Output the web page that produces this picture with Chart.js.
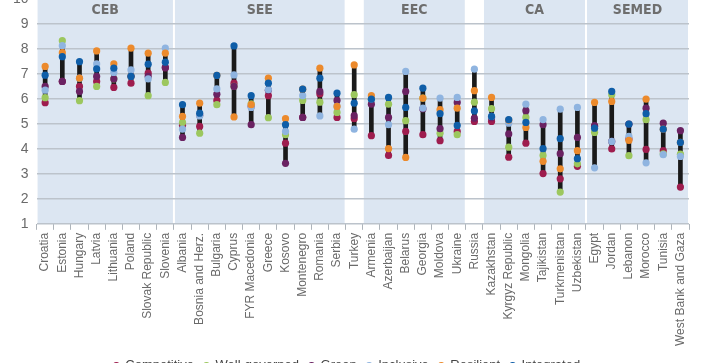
<!DOCTYPE html>
<html>
<head>
<meta charset="utf-8">
<script src="https://cdn.jsdelivr.net/npm/chart.js@4/dist/chart.umd.min.js"></script>
<style>
  html, body { margin: 0; padding: 0; background: #fff; overflow: hidden; }
  #wrap { position: absolute; left: 0; top: -18px; width: 720px; height: 400px; }
</style>
</head>
<body>
<div id="wrap"><canvas id="chart"></canvas></div>
<script>
const countries = [
    'Croatia', 'Estonia', 'Hungary', 'Latvia', 'Lithuania', 'Poland', 'Slovak Republic', 'Slovenia',
    'Albania', 'Bosnia and Herz.', 'Bulgaria', 'Cyprus', 'FYR Macedonia', 'Greece', 'Kosovo',
    'Montenegro', 'Romania', 'Serbia', 'Turkey',
    'Armenia', 'Azerbaijan', 'Belarus', 'Georgia', 'Moldova', 'Ukraine', 'Russia',
    'Kazakhstan', 'Kyrgyz Republic', 'Mongolia', 'Tajikistan', 'Turkmenistan', 'Uzbekistan',
    'Egypt', 'Jordan', 'Lebanon', 'Morocco', 'Tunisia', 'West Bank and Gaza'
];

// region panels: name, first and last country index
const groupNames = ['CEB', 'SEE', 'EEC', 'CA', 'SEMED'];
const groupStart = [0, 8, 19, 26, 32];
const groupEnd = [7, 17, 24, 31, 37];

const competitive = [5.85, 6.7, 6.5, 6.7, 6.46, 6.63, 7.03, 7.25, 4.95, 4.9, 5.94, 6.63, 5.7, 6.13, 4.23, 5.26, 6.2, 5.26, 5.21,
    4.53, 3.74, 4.7, 4.57, 4.33, 4.7, 5.1, 5.1, 3.67, 4.23, 3.01, 2.8, 3.3, 4.9, 4.0, 4.4, 3.98, 3.93, 2.47];
const wellGoverned = [6.05, 8.33, 5.93, 6.5, 6.8, 6.9, 6.13, 6.66, 5.06, 4.63, 5.77, 6.5, 5.8, 5.25, 4.57, 5.94, 5.87, 5.46, 6.17,
    5.99, 5.79, 5.13, 6.03, 4.63, 4.57, 5.87, 5.61, 4.07, 5.26, 3.74, 2.27, 3.4, 4.66, 6.17, 3.73, 5.17, 3.8, 3.79];
const green = [6.5, 6.7, 6.3, 6.9, 6.8, 6.9, 6.9, 7.25, 4.46, 5.35, 6.19, 6.5, 4.97, 6.35, 3.42, 5.26, 6.3, 5.94, 5.33,
    5.79, 5.26, 6.3, 5.6, 4.81, 5.86, 5.23, 5.25, 4.6, 5.53, 4.97, 3.81, 4.46, 4.93, 4.3, 4.99, 5.63, 5.03, 4.73];
const inclusive = [6.35, 8.13, 6.83, 7.4, 7.06, 7.16, 6.8, 8.03, 4.79, 5.32, 6.4, 6.96, 5.66, 6.37, 4.7, 6.13, 5.32, 5.7, 4.79,
    6.0, 4.97, 7.1, 5.63, 6.03, 6.06, 7.19, 5.3, 5.03, 5.79, 5.17, 5.59, 5.66, 3.24, 4.3, 4.5, 3.44, 3.77, 3.7];
const resilient = [7.3, 7.85, 6.83, 7.92, 7.4, 8.03, 7.83, 7.83, 5.3, 5.83, 6.94, 5.28, 5.77, 6.83, 5.21, 6.39, 7.23, 5.7, 7.36,
    6.13, 4.01, 3.66, 6.03, 5.57, 5.63, 6.33, 6.06, 5.15, 4.86, 3.5, 3.2, 3.93, 5.86, 5.9, 4.34, 5.99, 4.79, 4.26];
const integrated = [6.95, 7.69, 7.49, 7.2, 7.23, 6.9, 7.39, 7.47, 5.77, 5.43, 6.94, 8.12, 6.13, 6.63, 4.97, 6.39, 6.83, 6.23, 5.83,
    5.99, 6.06, 5.66, 6.43, 5.41, 4.94, 5.52, 5.3, 5.17, 5.06, 4.01, 4.41, 3.61, 4.83, 6.3, 4.99, 5.41, 4.79, 4.26];

const seriesNames = ['Competitive', 'Well-governed', 'Green', 'Inclusive', 'Resilient', 'Integrated'];
const seriesValues = [competitive, wellGoverned, green, inclusive, resilient, integrated];
const seriesColors = ['#9E1D4E', '#9CC75E', '#6A2262', '#8FB4E0', '#EC8A2C', '#0F5EA8'];

// min-max range for the black bar behind the dots
const ranges = countries.map((c, i) => {
    const vals = seriesValues.map(s => s[i]);
    return [Math.min(...vals), Math.max(...vals)];
});

const panelPlugin = {
    id: 'panels',
    beforeDraw(chart) {
        const { ctx, chartArea, scales: { x } } = chart;
        const half = (x.getPixelForValue(1) - x.getPixelForValue(0)) / 2;
        ctx.save();
        ctx.fillStyle = '#DCE6F2';
        groupNames.forEach((g, i) => {
            const left = x.getPixelForValue(groupStart[i]) - half + 1;
            const right = x.getPixelForValue(groupEnd[i]) + half - 1;
            ctx.fillRect(left, 0, right - left, chartArea.bottom);
        });
        ctx.restore();
    },
    afterDatasetsDraw(chart) {
        const { ctx, scales: { x, y } } = chart;
        ctx.save();
        ctx.fillStyle = '#6E6E6E';
        ctx.font = 'bold 14px "Liberation Sans Narrow", "DejaVu Sans Condensed", sans-serif';
        ctx.textAlign = 'center';
        ctx.textBaseline = 'middle';
        groupNames.forEach((g, i) => {
            const cx = (x.getPixelForValue(groupStart[i]) + x.getPixelForValue(groupEnd[i])) / 2;
            ctx.fillText(g, cx, y.getPixelForValue(9.56));
        });
        ctx.restore();
    }
};

const datasets = seriesNames.map((name, i) => ({
    type: 'line',
    label: name,
    data: seriesValues[i],
    showLine: false,
    backgroundColor: seriesColors[i],
    borderColor: seriesColors[i],
    pointRadius: 3.6,
    pointBorderWidth: 0,
    order: seriesNames.length - i
}));

datasets.push({
    type: 'bar',
    label: 'range',
    data: ranges,
    backgroundColor: '#1A1A1A',
    barThickness: 4,
    order: 10
});

new Chart(document.getElementById('chart'), {
    type: 'bar',
    data: { labels: countries, datasets: datasets },
    options: {
        responsive: true,
        maintainAspectRatio: false,
        animation: false,
        layout: { padding: { top: 17, right: 31, left: 5, bottom: 0 } },
        plugins: {
            legend: {
                position: 'bottom',
                labels: {
                    usePointStyle: true,
                    pointStyle: 'circle',
                    boxWidth: 5,
                    boxHeight: 5,
                    color: '#444',
                    font: { size: 13, family: 'Liberation Sans, Arial, sans-serif' },
                    filter: item => item.text !== 'range',
                    sort: (a, b) => a.datasetIndex - b.datasetIndex
                }
            },
            tooltip: { enabled: false }
        },
        scales: {
            x: {
                offset: true,
                grid: { offset: true, drawOnChartArea: false, tickLength: 6, color: '#AEB4BA' },
                border: { display: false },
                ticks: {
                    autoSkip: false,
                    maxRotation: 90,
                    minRotation: 90,
                    color: '#6A6A6A',
                    font: { size: 12, family: 'Liberation Sans, Arial, sans-serif' }
                }
            },
            y: {
                min: 1,
                max: 10,
                grid: { color: '#BCC3CB', lineWidth: 1.5, drawTicks: false },
                border: { display: false },
                ticks: {
                    stepSize: 1,
                    padding: 8,
                    color: '#6A6A6A',
                    font: { size: 14, family: 'Liberation Sans, Arial, sans-serif' }
                }
            }
        }
    },
    plugins: [panelPlugin]
});
</script>
</body>
</html>
